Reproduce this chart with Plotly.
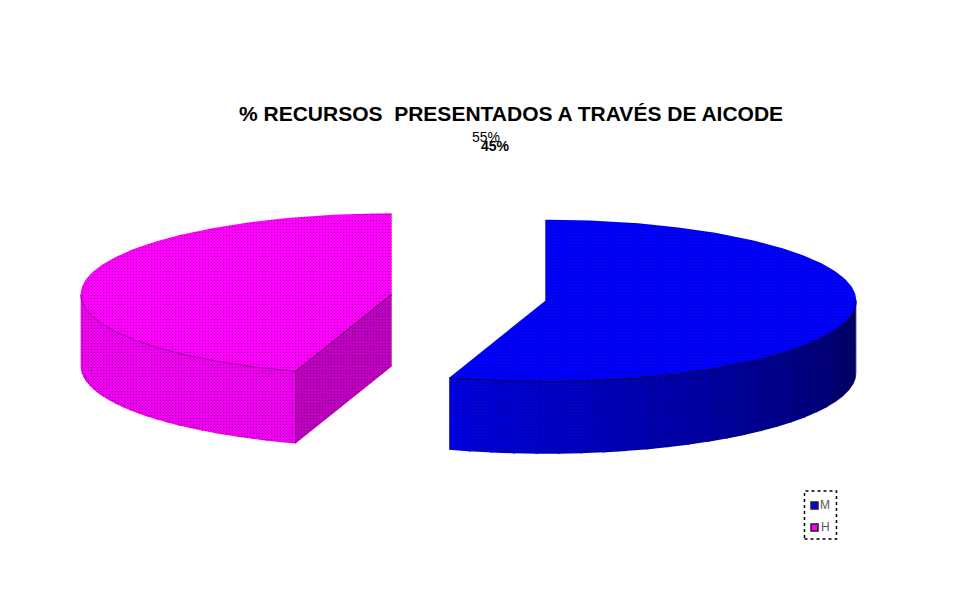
import numpy as np
import plotly.graph_objects as go

W, H = 972, 606

labels = ["M", "H"]
shares = [55, 45]
top_colors = ["#0000ff", "#ff00ff"]
side_dark = ["#00005c", "#f000f0"]
side_light = ["#0000e0", "#f000f0"]
face_colors = ["#0000d8", "#c000c0"]

# pixel scale of one pie radius, the tilt squashes y
RX, RY = 311, 81
CX, CY = 468.5, 297.5
DEPTH = 0.89
EXPLODE = 0.25


def ring(a0, a1, n=120):
    # angles in degrees clockwise from 12 o'clock, on the unit pie
    t = np.radians(np.linspace(a0, a1, n))
    return np.sin(t), np.cos(t)


def mix(c1, c2, f):
    a = [int(c1[i:i + 2], 16) for i in (1, 3, 5)]
    b = [int(c2[i:i + 2], 16) for i in (1, 3, 5)]
    return "rgb(%d,%d,%d)" % tuple(round(p + (q - p) * f) for p, q in zip(a, b))


def poly(fig, x, y, color):
    fig.add_trace(go.Scatter(
        x=x, y=y, mode="lines", fill="toself", fillcolor=color,
        fillpattern=dict(shape=".", size=3, solidity=0.1, fgcolor="#000000", bgcolor=color),
        line=dict(color=color, width=0),
        hoverinfo="skip", showlegend=False,
    ))


fig = go.Figure()

# slices run clockwise from 12 o'clock
start = 0
wedges = []
for share in shares:
    end = start + share * 3.6
    wedges.append((start, end))
    start = end

for i in [1, 0]:
    a0, a1 = wedges[i]
    mid = np.radians((a0 + a1) / 2)
    ox, oy = EXPLODE * np.sin(mid), EXPLODE * np.cos(mid)

    # cut face that looks to the viewer (only the second slice shows it)
    if i == 1:
        ex, ey = ring(a0, a0, 1)
        poly(fig,
             [ox, ox + ex[0], ox + ex[0], ox, ox],
             [oy, oy + ey[0], oy + ey[0] - DEPTH, oy - DEPTH, oy],
             face_colors[i])

    # outer wall, only the front half of the rim, banded like the original
    lo, hi = max(a0, 90), min(a1, 270)
    bands = 26
    edges = np.linspace(lo, hi, bands + 1)
    for b in range(bands):
        rx, ry = ring(edges[b], min(edges[b + 1] + 0.5, hi), 12)
        rx, ry = rx + ox, ry + oy
        f = b / (bands - 1)
        poly(fig,
             np.concatenate([rx, rx[::-1]]),
             np.concatenate([ry, ry[::-1] - DEPTH]),
             mix(side_dark[i], side_light[i], f))

    # top of the slice
    rx, ry = ring(a0, a1, 240)
    poly(fig,
         np.concatenate([[ox], rx + ox, [ox]]),
         np.concatenate([[oy], ry + oy, [oy]]),
         top_colors[i])

    # rim line between top and wall
    rx, ry = ring(lo, hi, 120)
    fig.add_trace(go.Scatter(
        x=rx + ox, y=ry + oy, mode="lines",
        line=dict(color=mix(side_dark[i], "#000000", 0.4), width=1),
        hoverinfo="skip", showlegend=False,
    ))
    if i == 1:
        ex, ey = ring(a0, a0, 1)
        fig.add_trace(go.Scatter(
            x=[ox + ex[0], ox, ox + ex[0], ox + ex[0]],
            y=[oy + ey[0], oy, oy + ey[0], oy + ey[0] - DEPTH],
            mode="lines", line=dict(color="#7a007a", width=1),
            hoverinfo="skip", showlegend=False,
        ))


def px(x):
    return x / W


def py(y):
    return 1 - y / H


texts = [
    ("% RECURSOS  PRESENTADOS A TRAVÉS DE AICODE", 511, 114, 21, True),
    ("55%", 486, 137, 14, False),
    ("45%", 495, 146, 14, True),
    ("M", 825, 505, 12, False),
    ("H", 825, 527, 12, False),
]
annotations = [
    dict(text="<b>%s</b>" % t if bold else t, x=px(x), y=py(y), xref="paper", yref="paper",
         showarrow=False, xanchor="center", yanchor="middle",
         font=dict(family="Liberation Sans", size=size, color="#000000" if size > 12 else "#555566"))
    for t, x, y, size, bold in texts
]

shapes = [
    dict(type="rect", xref="paper", yref="paper", x0=px(804.5), x1=px(836.5), y0=py(539), y1=py(491),
         line=dict(color="#000000", width=1.5, dash="dot"), fillcolor="#ffffff"),
    dict(type="rect", xref="paper", yref="paper", x0=px(811), x1=px(818), y0=py(509), y1=py(502),
         line=dict(color="#222222", width=1.5), fillcolor=top_colors[0]),
    dict(type="rect", xref="paper", yref="paper", x0=px(811), x1=px(818), y0=py(531), y1=py(524),
         line=dict(color="#222222", width=1.5), fillcolor=top_colors[1]),
]

fig.update_layout(
    width=W, height=H,
    margin=dict(l=0, r=0, t=0, b=0),
    paper_bgcolor="#ffffff", plot_bgcolor="#ffffff",
    xaxis=dict(visible=False, range=[-CX / RX, (W - CX) / RX]),
    yaxis=dict(visible=False, range=[(CY - H) / RY, CY / RY]),
    annotations=annotations, shapes=shapes,
    showlegend=False,
)

fig.write_html("out.html", config=dict(displayModeBar=False),
               post_script="document.body.style.margin='0';document.body.style.overflow='hidden';")
